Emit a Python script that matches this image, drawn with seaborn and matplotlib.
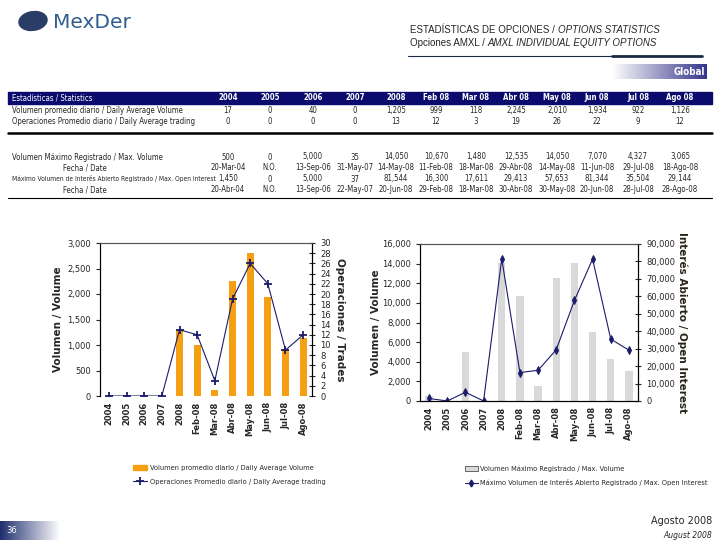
import matplotlib.pyplot as plt
import matplotlib.ticker as mticker
import numpy as np
import pandas as pd
import seaborn as sns
from matplotlib import font_manager
from matplotlib.colors import LinearSegmentedColormap
from matplotlib.lines import Line2D
from matplotlib.patches import Ellipse, Patch, Rectangle

# datos de las graficas
categories = ["2004", "2005", "2006", "2007", "2008", "Feb-08", "Mar-08",
              "Abr-08", "May-08", "Jun-08", "Jul-08", "Ago-08"]
avg_volume = [0, 0, 0, 0, 1290, 1000, 110, 2250, 2800, 1940, 920, 1130]
avg_trades = [0, 0, 0, 0, 13, 12, 3, 19, 26, 22, 9, 12]
max_volume = [500, 0, 5000, 35, 14050, 10670, 1480, 12535, 14050, 7070, 4327, 3065]
max_open_interest = [1450, 0, 5000, 37, 81544, 16300, 17611, 29413, 57653, 81344, 35504, 29144]

# datos de la tabla
table_columns = ["2004", "2005", "2006", "2007", "2008", "Feb 08", "Mar 08",
                 "Abr 08", "May 08", "Jun 08", "Jul 08", "Ago 08"]
row_avg_volume = ["17", "0", "40", "0", "1,205", "999", "118", "2,245", "2,010", "1,934", "922", "1,126"]
row_avg_trades = ["0", "0", "0", "0", "13", "12", "3", "19", "26", "22", "9", "12"]
row_max_volume = ["500", "0", "5,000", "35", "14,050", "10,670", "1,480", "12,535",
                  "14,050", "7,070", "4,327", "3,065"]
row_max_volume_date = ["20-Mar-04", "N.O.", "13-Sep-06", "31-May-07", "14-May-08", "11-Feb-08",
                       "18-Mar-08", "29-Abr-08", "14-May-08", "11-Jun-08", "29-Jul-08", "18-Ago-08"]
row_max_oi = ["1,450", "0", "5,000", "37", "81,544", "16,300", "17,611", "29,413",
              "57,653", "81,344", "35,504", "29,144"]
row_max_oi_date = ["20-Abr-04", "N.O.", "13-Sep-06", "22-May-07", "20-Jun-08", "29-Feb-08",
                   "18-Mar-08", "30-Abr-08", "30-May-08", "20-Jun-08", "28-Jul-08", "28-Ago-08"]

NAVY = "#0B0B6E"
ORANGE = "#F5A012"
GREY = "#D9D9D9"
LINE = "#1C1C6A"

sns.set_style("white")
plt.rcParams["font.family"] = ["DejaVu Sans"]

# buscar una fuente estrecha instalada
names = {f.name for f in font_manager.fontManager.ttflist}
cond = [f for f in font_manager.fontManager.ttflist
        if f.name == "DejaVu Sans" and "ondensed" in str(f.stretch) + f.fname]
if "Liberation Sans Narrow" in names:
    NARROW = dict(family=["Liberation Sans Narrow"])
    TS = 6.3
elif cond:
    NARROW = dict(family=["DejaVu Sans"], stretch="condensed")
    TS = 5.6
else:
    NARROW = dict(family=["Liberation Sans", "DejaVu Sans"])
    TS = 5.0


def fx(x):
    return x / 720


def fy(y):
    return 1 - y / 540


fig = plt.figure(figsize=(7.2, 5.4), dpi=100)

# encabezado
fig.add_artist(Ellipse((fx(33), fy(21)), 0.04, 0.034, angle=25, color="#2A3D66",
                       transform=fig.transFigure))
fig.text(fx(53), fy(22), "MexDer", fontsize=14.5, color="#2F5E8E", va="center")
hf = dict(family=["Liberation Sans", "DejaVu Sans"], fontsize=7, va="center")
t1 = fig.text(fx(410), fy(30), "ESTADÍSTICAS DE OPCIONES / ", **hf)
fig.canvas.draw()
bb = t1.get_window_extent()
fig.text(bb.x1 / 720, fy(30), "OPTIONS STATISTICS", style="italic", **hf)
t2 = fig.text(fx(410), fy(43), "Opciones AMXL / ", **hf)
fig.canvas.draw()
bb = t2.get_window_extent()
fig.text(bb.x1 / 720, fy(43), "AMXL INDIVIDUAL EQUITY OPTIONS", style="italic", **hf)
fig.add_artist(Line2D([fx(408), fx(612)], [fy(56), fy(56)], color="#1A2A44", lw=0.8))
fig.add_artist(Line2D([fx(612), fx(702)], [fy(55.5), fy(55.5)], color="#1A2A44", lw=2))

grad = LinearSegmentedColormap.from_list("g", ["white", "#34348A"])
gax = fig.add_axes([fx(612), fy(79), fx(707) - fx(612), fy(64) - fy(79)])
gax.imshow(np.linspace(0, 1, 256)[None, :], cmap=grad, aspect="auto")
gax.axis("off")
gax.text(0.98, 0.45, "Global", color="white", fontsize=7, fontweight="bold",
         ha="right", va="center", transform=gax.transAxes, **NARROW)

# tabla
col_x = [228, 270, 313, 355, 396, 436, 476, 516, 557, 597, 638, 680]
fig.add_artist(Rectangle((fx(8), fy(104)), fx(712) - fx(8), fy(92) - fy(104),
                         color=NAVY, transform=fig.transFigure))
tf = dict(fontsize=TS, va="center", **NARROW)
fig.text(fx(12), fy(98), "Estadísticas / Statistics", color="white", **tf)
for x, c in zip(col_x, table_columns):
    fig.text(fx(x), fy(98), c, color="white", ha="center", fontweight="bold", **tf)

rows = [
    ("Volumen promedio diario / Daily Average Volume", row_avg_volume, 111, 12),
    ("Operaciones Promedio diario / Daily Average trading", row_avg_trades, 122, 12),
    ("Volumen Máximo Registrado / Max. Volume", row_max_volume, 157, 12),
    ("Fecha / Date", row_max_volume_date, 168, 63),
    ("Máximo Volumen de Interés Abierto Registrado / Max. Open Interest", row_max_oi, 179, 12),
    ("Fecha / Date", row_max_oi_date, 190, 63),
]
for label, vals, y, lx in rows:
    lt = fig.text(fx(lx), fy(y), label, **tf)
    fig.canvas.draw()
    w = lt.get_window_extent().x1
    if w > 214:  # la etiqueta larga debe caber antes de la columna 2004
        lt.set_fontsize(TS * (214 - lx) / (w - lx))
    for x, v in zip(col_x, vals):
        fig.text(fx(x), fy(y), v, ha="center", **tf)
fig.add_artist(Line2D([fx(8), fx(712)], [fy(133), fy(133)], color="black", lw=1.8))
fig.add_artist(Line2D([fx(8), fx(712)], [fy(198), fy(198)], color="black", lw=0.8))

pos = np.arange(len(categories))
df = pd.DataFrame({"cat": categories, "pos": pos, "avg_volume": avg_volume,
                   "avg_trades": avg_trades, "max_volume": max_volume,
                   "max_oi": max_open_interest})


def style_axes(ax, axr, show_bottom):
    ax.set_xlim(-0.5, len(categories) - 0.5)
    ax.set_xlabel("")
    axr.set_xlabel("")
    ax.set_xticks(pos)
    ax.set_xticklabels(categories, rotation=90, fontsize=6, fontweight="bold")
    ax.tick_params(axis="x", length=0, pad=4)
    ax.set_xticks(pos[:-1] + 0.5, minor=True)
    ax.tick_params(axis="x", which="minor", length=5, direction="inout" if show_bottom else "out",
                   width=0.8, color="black")
    ax.tick_params(axis="y", labelsize=6, length=3, direction="out", width=0.8, left=True)
    axr.tick_params(axis="y", labelsize=6, length=5, direction="inout", width=0.8, right=True)
    ax.yaxis.set_major_formatter(mticker.StrMethodFormatter("{x:,.0f}"))
    axr.yaxis.set_major_formatter(mticker.StrMethodFormatter("{x:,.0f}"))
    for a in (ax, axr):
        a.spines["left"].set_color("black")
        a.spines["right"].set_color("black")
        a.spines["left"].set_linewidth(0.8)
        a.spines["right"].set_linewidth(0.8)
        a.spines["top"].set_color("#555555")
        a.spines["top"].set_linewidth(0.8)
        a.spines["bottom"].set_visible(show_bottom)
        a.spines["bottom"].set_linewidth(0.8)
        a.spines["bottom"].set_color("black")
    ax.set_facecolor("none")


# grafica izquierda: volumen promedio diario
ax1 = fig.add_axes([fx(100), fy(396), fx(312) - fx(100), fy(243) - fy(396)])
sns.barplot(data=df, x="cat", y="avg_volume", color=ORANGE, width=0.4, saturation=1,
            edgecolor="none", ax=ax1)
ax1.set_ylim(0, 3000)
ax1.set_yticks(range(0, 3001, 500))
ax1.set_ylabel("Volumen / Volume", fontsize=7.5, fontweight="bold", labelpad=3)
ax1b = ax1.twinx()
sns.lineplot(data=df, x="pos", y="avg_trades", color=LINE, lw=0.8, marker="+",
             markersize=6, markeredgewidth=1.3, markeredgecolor=LINE, ax=ax1b)
ax1b.set_ylim(0, 30)
ax1b.set_yticks(range(0, 31, 2))
ax1b.set_ylabel("Operaciones / Trades", fontsize=7.5, fontweight="bold", rotation=270, labelpad=10)
style_axes(ax1, ax1b, False)

fig.legend(handles=[Patch(color=ORANGE), Line2D([], [], color=LINE, lw=0.8, marker="+",
                                                 markersize=6, markeredgewidth=1.3)],
           labels=["Volumen promedio diario / Daily Average Volume",
                   "Operaciones Promedio diario / Daily Average trading"],
           loc="upper left", bbox_to_anchor=(fx(126), fy(458)), frameon=False,
           prop=dict(size=TS - 0.3, **NARROW), handlelength=2.0, handleheight=0.8,
           labelspacing=1.0, handletextpad=0.3)

# grafica derecha: volumen maximo e interes abierto
ax2 = fig.add_axes([fx(420), fy(401), fx(638) - fx(420), fy(244) - fy(401)])
sns.barplot(data=df, x="cat", y="max_volume", color=GREY, width=0.4, saturation=1,
            edgecolor="none", ax=ax2)
ax2.set_ylim(0, 16000)
ax2.set_yticks(range(0, 16001, 2000))
ax2.set_ylabel("Volumen / Volume", fontsize=7.5, fontweight="bold", labelpad=1)
ax2b = ax2.twinx()
sns.lineplot(data=df, x="pos", y="max_oi", color=LINE, lw=0.8, marker="d",
             markersize=4, markeredgecolor=LINE, ax=ax2b)
ax2b.set_ylim(0, 90000)
ax2b.set_yticks(range(0, 90001, 10000))
ax2b.set_ylabel("Interés Abierto / Open Interest", fontsize=7.5, fontweight="bold",
                rotation=270, labelpad=9, color="#2A2418")
style_axes(ax2, ax2b, True)

fig.legend(handles=[Patch(facecolor=GREY, edgecolor="#333333", linewidth=0.5),
                    Line2D([], [], color=LINE, lw=0.8, marker="d", markersize=3.5)],
           labels=["Volumen Máximo Registrado / Max. Volume",
                   "Máximo Volumen de Interés Abierto Registrado / Max. Open Interest"],
           loc="upper left", bbox_to_anchor=(fx(458), fy(459)), frameon=False,
           prop=dict(size=TS - 0.3, **NARROW), handlelength=1.8, handleheight=0.8,
           labelspacing=1.0, handletextpad=0.3)

# pie de pagina
pax = fig.add_axes([0, 0, fx(60), fy(521)])
pax.imshow(np.linspace(1, 0, 256)[None, :],
           cmap=LinearSegmentedColormap.from_list("p", ["white", "#1E2E6E"]), aspect="auto")
pax.axis("off")
pax.text(0.1, 0.5, "36", color="white", fontsize=6, va="center", transform=pax.transAxes)
fig.text(fx(712), fy(521), "Agosto 2008", fontsize=7, ha="right", va="center")
fig.text(fx(712), fy(535), "August 2008", fontsize=5.5, style="italic", ha="right", va="center")

fig.savefig("out.png", dpi=100)
